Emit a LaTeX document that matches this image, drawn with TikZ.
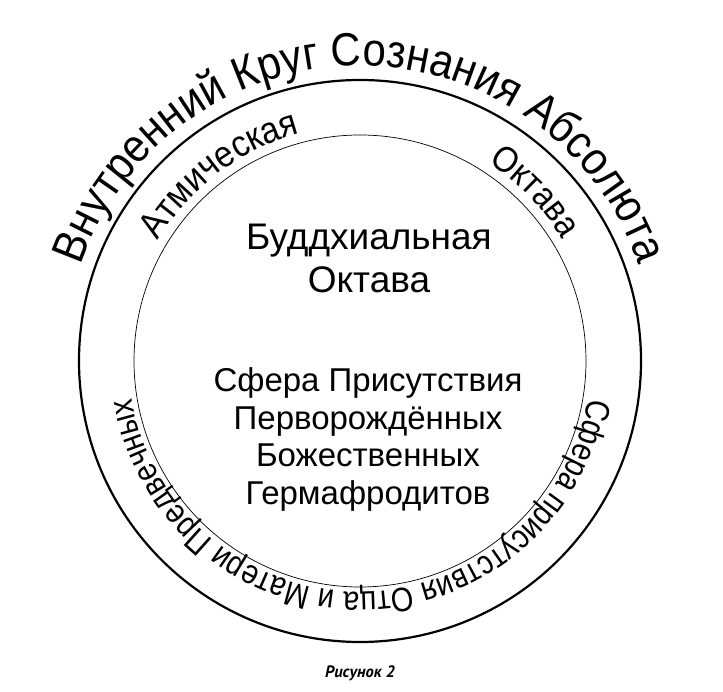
\documentclass[tikz,border=0pt]{standalone}
\usepackage{fontspec}
\setmainfont{Liberation Sans}
\newfontfamily\narrowfamily[FakeStretch=0.9]{Liberation Sans}
\newfontfamily\slimfamily[FakeStretch=0.85]{Liberation Sans}
\newfontfamily\capfamily{PT Sans}
\usetikzlibrary{decorations.text}
\newcommand\titlesize{\narrowfamily\fontsize{46.5}{46.5}\selectfont}
\newcommand\ringsize{\narrowfamily\fontsize{36}{36}\selectfont}
\newcommand\lowsize{\slimfamily\fontsize{34}{34}\selectfont}
\tikzstyle{outer} = [circle, draw=black, line width=2.2pt, minimum size=562pt, inner sep=0pt]
\tikzstyle{inner} = [circle, draw=black, line width=0.7pt, minimum size=452pt, inner sep=0pt]
\tikzstyle{core} = [font=\fontsize{37}{37}\selectfont, text height=26pt, text depth=7pt, inner sep=0pt]
\tikzstyle{core2} = [font=\fontsize{33}{33}\selectfont, text height=24pt, text depth=7pt, inner sep=0pt]
\tikzstyle{figcap} = [font=\capfamily\bfseries\itshape\fontsize{16.5}{16.5}\selectfont, inner sep=0pt]
\tikzstyle{ring} = [decorate, decoration={text along path, text align=center}]

\begin{document}
\begin{tikzpicture}[x=1pt, y=1pt, node distance=43pt]
		\useasboundingbox (0,0) rectangle (723,692);
		\coordinate (centre) at (360,331);
		\node (outerring) [outer] at (centre) {};
		\node (innerring) [inner] at (centre) {};
		
		\path [ring, decoration={text={|\titlesize|Внутренний Круг Сознания Абсолюта}}]
			([shift={(centre)}]180:295pt) arc[start angle=180, end angle=0, radius=295pt];
		\path [ring, decoration={text={|\ringsize\fontsize{37}{37}\selectfont|Атмическая}}]
			([shift={(centre)}]172:235pt) arc[start angle=172, end angle=82, radius=235pt];
		\path [ring, decoration={text={|\ringsize|Октава}}]
			([shift={(centre)}]89:236pt) arc[start angle=89, end angle=-1, radius=236pt];
		\path [ring, decoration={text={|\lowsize|Сфера присутствия Отца и Матери Предвечных}}]
			([shift={(centre)}]0:231pt) arc[start angle=0, end angle=-180, radius=231pt];
		
		\node (buddhi) [core, anchor=base] at (369,442) {Буддхиальная};
		\node (octave) [core, below of=buddhi] {Октава};
		\node (sphere) [core2, anchor=base] at (368,300) {Сфера Присутствия};
		\node (firstborn) [core2, below of=sphere, node distance=37.5pt] {Перворождённых};
		\node (divine) [core2, below of=firstborn, node distance=37.5pt] {Божественных};
		\node (hermaph) [core2, below of=divine, node distance=37.5pt] {Гермафродитов};
		
		\node (figure) [figcap, anchor=base] at (360,14) {Рисунок 2};
	\end{tikzpicture}
\end{document}
